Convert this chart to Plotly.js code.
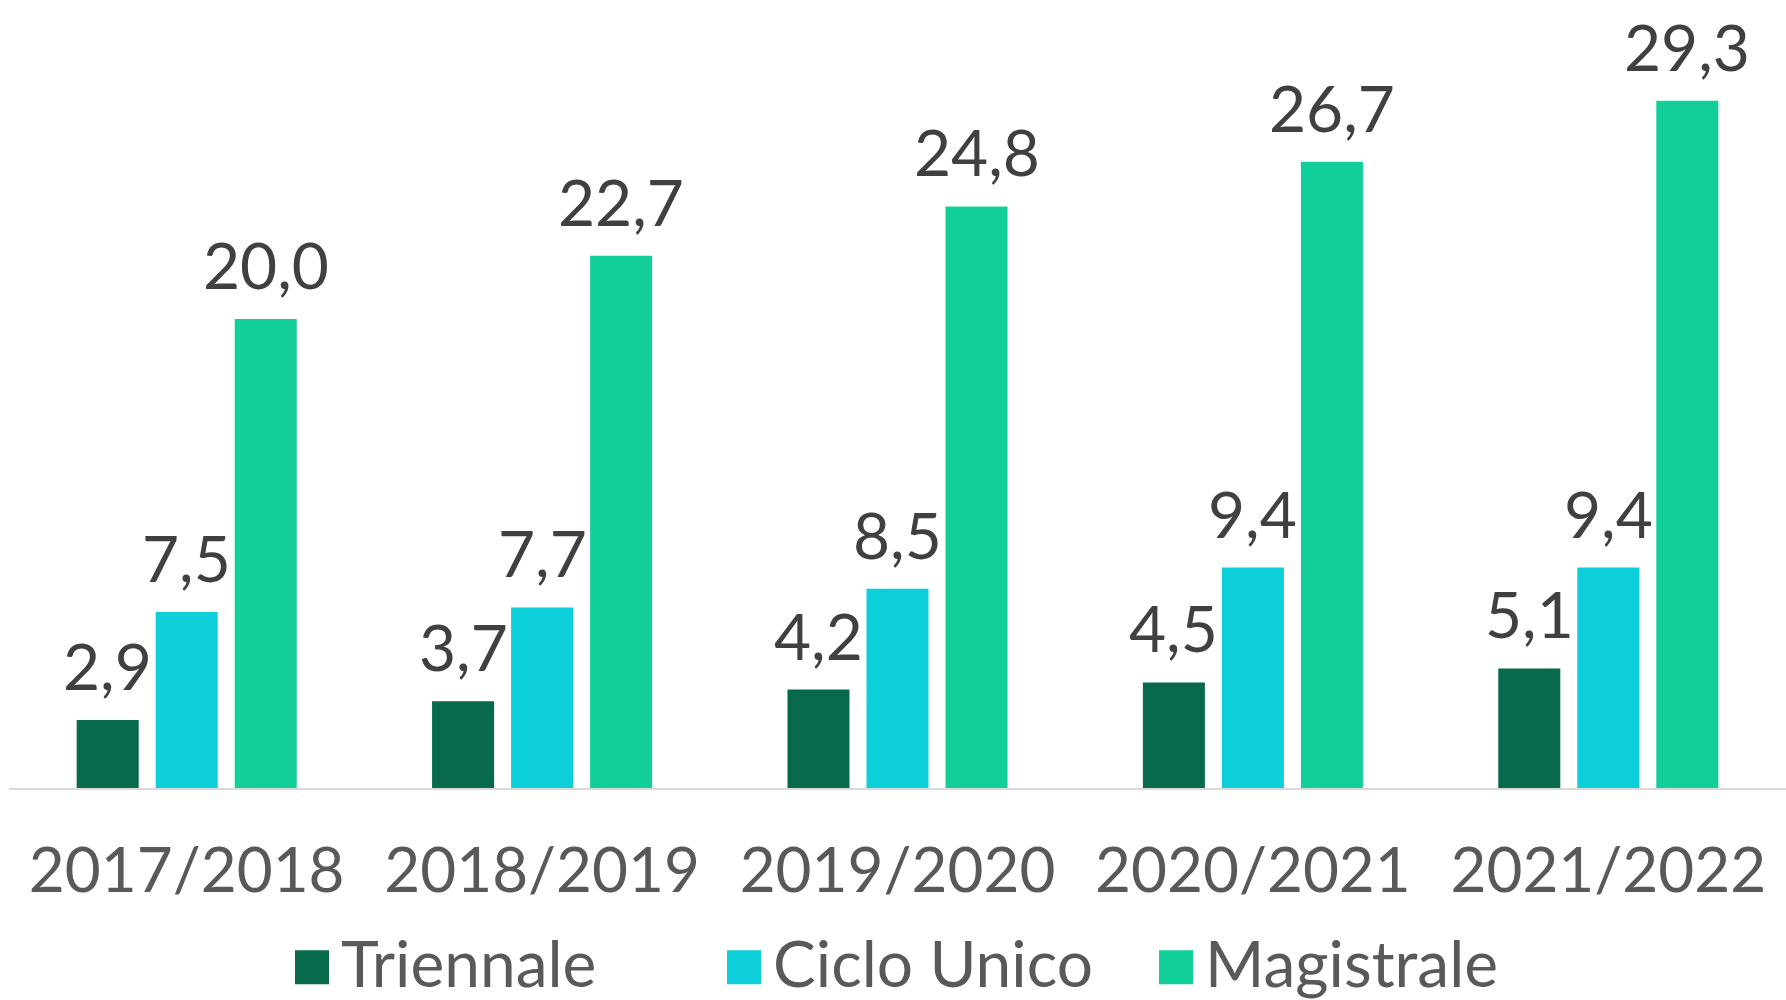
<!DOCTYPE html>
<html>
<head>
<meta charset="utf-8">
<script src="https://cdn.plot.ly/plotly-3.0.1.min.js"></script>
<style>html,body{margin:0;padding:0;background:#fff;}#chart{width:1786px;height:1000px;}</style>
</head>
<body>
<div id="chart"></div>
<script>
const years = ["2017/2018", "2018/2019", "2019/2020", "2020/2021", "2021/2022"];
const seriesNames = ["Triennale", "Ciclo Unico", "Magistrale"];
const triennale = [2.9, 3.7, 4.2, 4.5, 5.1];
const cicloUnico = [7.5, 7.7, 8.5, 9.4, 9.4];
const magistrale = [20.0, 22.7, 24.8, 26.7, 29.3];
const colors = ["#086a4d", "#0dcfd9", "#12cf9a"];

const FONT = "Lato, 'Noto Sans', sans-serif";
const BARGAP = 0.333, GROUPGAP = 0.215;
const values = [triennale, cicloUnico, magistrale];
const nSeries = values.length;

const traces = values.map((v, i) => ({
  type: "bar",
  name: seriesNames[i],
  x: years,
  y: v,
  marker: {color: colors[i]},
  textposition: "none",
  hoverinfo: "x+y+name"
}));

// value labels: placed at each bar's own category/value through the axes
const slot = (1 - BARGAP) / nSeries;
const fmt = v => v.toFixed(1).replace(".", ",");
const annotations = [];
values.forEach((v, s) => {
  v.forEach((val, i) => {
    annotations.push({
      xref: "x", yref: "y",
      x: i + (s - (nSeries - 1) / 2) * slot,
      y: val,
      text: fmt(val),
      showarrow: false,
      xanchor: "center", yanchor: "bottom",
      yshift: 14,
      font: {family: FONT, size: 64, color: "#404040"}
    });
  });
});

const layout = {
  width: 1786, height: 1000,
  margin: {l: 9, r: 0, t: 0, b: 212, autoexpand: false},
  paper_bgcolor: "#fff", plot_bgcolor: "#fff",
  separators: ",.",
  barmode: "group",
  bargap: BARGAP,
  bargroupgap: GROUPGAP,
  font: {family: FONT, color: "#595959"},
  xaxis: {
    showline: true, linecolor: "#d9d9d9", linewidth: 1.5,
    ticks: "", showgrid: false,
    ticklabelstandoff: 28,
    tickfont: {family: FONT, size: 62, color: "#595959"}
  },
  yaxis: {
    range: [0, 33.6], visible: false, showgrid: false, zeroline: false
  },
  annotations: annotations,
  showlegend: true,
  legend: {
    orientation: "h", xref: "paper", x: 0.1542, xanchor: "left",
    yref: "paper", y: -0.16, yanchor: "top",
    itemwidth: 48,
    entrywidth: 369, entrywidthmode: "pixels",
    font: {family: FONT, size: 64, color: "#595959"},
    traceorder: "normal"
  }
};

Plotly.newPlot("chart", traces, layout, {displayModeBar: false, staticPlot: true}).then(gd => {
  // enlarge legend swatches to match the reference's square keys
  gd.querySelectorAll(".legendpoints path").forEach(p => p.setAttribute("d", "M17,22H-17V-12H17Z"));
});
</script>
</body>
</html>
